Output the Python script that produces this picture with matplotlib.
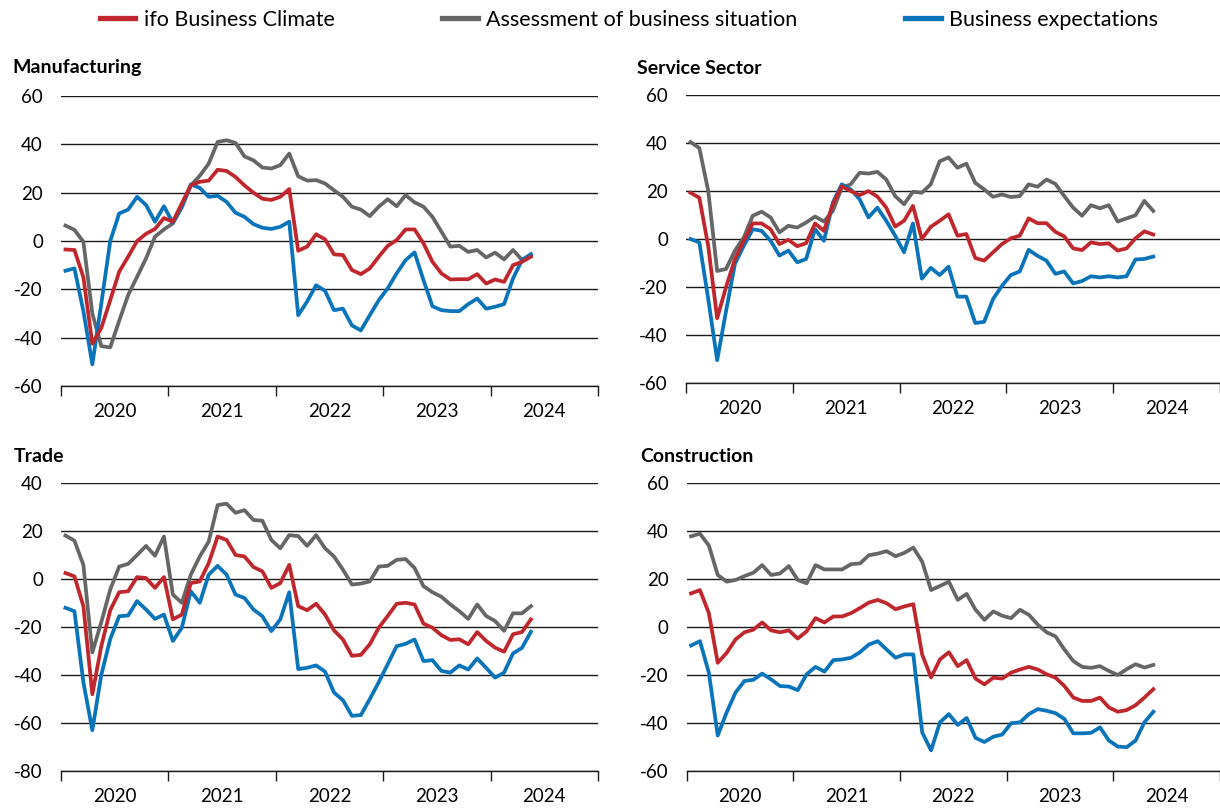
import matplotlib
matplotlib.use('Agg')
import matplotlib.pyplot as plt
from matplotlib.lines import Line2D
import numpy as np

plt.rcParams['font.family'] = ['Lato', 'DejaVu Sans']

years = ['2020', '2021', '2022', '2023', '2024']
series_names = ['ifo Business Climate', 'Assessment of business situation', 'Business expectations']

# Monthly balances, Jan 2020 - May 2024
manuf_climate = [-3.5, -3.7, -15, -42.5, -36, -24.5, -12.7, -6.5, 0, 3, 5, 9.5, 8, 15.6, 23, 24.5, 25, 29.5,
                 29, 26.5, 23, 20, 17.5, 17, 18.3, 21.5, -4, -2.3, 2.8, 0.7, -5.5, -5.8, -12, -13.7, -11.3, -6.5,
                 -2, 0.4, 4.8, 4.8, -1, -8.6, -13.4, -15.9, -15.8, -15.8, -13.7, -17.6, -15.9, -16.9, -10, -8.6, -6.5]
manuf_situation = [6.4, 4.6, -0.3, -30, -43.5, -44, -33, -22.4, -14.8, -7.2, 1.8, 4.8, 7.3, 14, 23, 27, 32, 41,
                   41.7, 40.6, 35, 33.4, 30.4, 30, 31.4, 36.2, 26.8, 25, 25.2, 23.8, 21, 18.3, 14.2, 13, 10.3, 14.2,
                   17.3, 14.4, 19, 16, 14.2, 10, 3.9, -2.3, -2, -4.5, -3.7, -6.8, -4.8, -7.6, -3.7, -7.8, -5.8]
manuf_expect = [-12.3, -11.3, -29, -51, -26, 0, 11.4, 13, 18.3, 14.9, 8, 14.4, 7.6, 14.2, 23.4, 22, 18.3, 18.7,
                16.2, 11.7, 10, 7, 5.5, 5, 5.9, 8, -30.7, -25, -18.3, -20.6, -28.6, -28, -34.9, -37, -30.7, -24.5,
                -19.6, -13.4, -7.9, -4.7, -16.2, -27, -28.6, -29, -29, -26.1, -23.8, -28, -27.2, -26.1, -15.5, -7.9, -5.4]

serv_climate = [19.3, 17.2, -3, -33, -20, -8.3, -0.7, 6.5, 6.5, 4.1, -2.1, -0.3, -3, -1.7, 6.5, 3.4, 14.5, 22,
                20, 18.3, 20, 17.7, 13.1, 5.2, 7.6, 13.8, 0, 5.1, 7.6, 10.3, 1.4, 2.1, -7.9, -9, -5.5, -2.1,
                0.3, 1.4, 8.6, 6.6, 6.6, 3, 1.1, -3.9, -4.6, -1.4, -2.1, -1.8, -4.8, -3.9, 0.3, 3.2, 1.9]
serv_situation = [40.4, 37.9, 20, -13.3, -12.5, -4.8, 0.7, 9.7, 11.4, 9, 2.8, 5.5, 4.8, 6.9, 9.4, 7.3, 11.7, 21.4,
                  22.8, 27.6, 27.3, 28, 24.8, 17.9, 14.5, 19.7, 19.3, 22.8, 32.4, 34, 29.7, 31.4, 23.4, 20.7, 17.6,
                  18.6, 17.5, 17.9, 22.8, 21.8, 24.8, 23, 17.9, 13.1, 9.7, 14.1, 12.8, 14.1, 7.3, 8.6, 9.9, 15.9, 11.7]
serv_expect = [0, -1.4, -25, -50.5, -30, -10.3, -2.8, 4.1, 3.4, -0.7, -6.9, -4.8, -9.7, -8.3, 4.1, -0.7, 15.2, 22.8,
               20.7, 16.6, 9, 13.1, 7.6, 1.4, -5.5, 6.5, -16.5, -12, -15, -11.5, -24, -24, -35, -34.5, -25, -19.5,
               -15, -13.5, -4.5, -7, -9, -14.5, -13.5, -18.5, -17.5, -15.5, -16, -15.5, -16, -15.5, -8.5, -8.3, -7.3]

trade_climate = [2.5, 1.1, -11.3, -48, -28, -13, -5.5, -5.1, 0.8, 0.4, -3.7, 0.8, -16.8, -14.8, -1.7, -1, 6.6, 17.7,
                 16.3, 10, 9.4, 5, 3.2, -3.7, -1.7, 5.9, -11.3, -13, -10.3, -14.8, -21.4, -25.2, -32, -31.6, -27.2,
                 -20.3, -15.4, -10.3, -9.9, -10.6, -18.6, -20.3, -23.4, -25.4, -25.1, -27.2, -22.1, -25.8, -28.6,
                 -30.3, -23, -22.1, -16.8]
trade_situation = [18.1, 16, 5.9, -30.6, -18, -4.4, 5.2, 6.3, 10, 13.8, 9.7, 17.7, -6.5, -9.9, 1.8, 9.4, 15.6, 30.8,
                   31.4, 27.6, 28.7, 24.6, 24.3, 16.3, 12.8, 18.3, 17.9, 13.8, 18.3, 12.8, 9.4, 3.9, -2.3, -1.9, -1,
                   5.2, 5.5, 8, 8.3, 4.6, -3, -5.5, -7.4, -10.6, -13.4, -16.6, -10.6, -15.4, -17.5, -21.6, -14.3,
                   -14.3, -11.3]
trade_expect = [-12, -13.4, -43, -63, -40, -25, -15.5, -15.2, -9.2, -12.7, -16.6, -14.8, -25.8, -20.3, -5.1, -9.9,
                1.8, 5.5, 1.8, -6.5, -7.9, -12.7, -15.5, -21.7, -16.8, -5.5, -37.5, -37, -36, -38.6, -47.3, -50.5,
                -57, -56.7, -50, -43, -35.5, -28, -27, -25.2, -34.2, -33.8, -38.3, -39, -36, -37.7, -33.1, -37,
                -41.1, -39, -31, -28.7, -22]

constr_climate = [14, 15.4, 5.8, -14.9, -10.8, -5.2, -2.2, -1.1, 1.9, -1.4, -2.2, -1.4, -4.8, -1.8, 3.7, 1.9, 4.4,
                  4.4, 5.8, 7.9, 10.2, 11.3, 9.9, 7.4, 8.6, 9.5, -11.5, -21, -13.5, -10.5, -16.3, -13.8, -21.5,
                  -23.9, -21.1, -21.5, -19, -17.7, -16.6, -17.7, -19.7, -21.1, -24.6, -29.4, -30.8, -30.8, -29.4,
                  -33.5, -35.3, -34.6, -32.6, -29.4, -25.9]
constr_situation = [37.8, 38.9, 34, 21.7, 18.9, 19.6, 21.2, 22.6, 25.8, 21.7, 22.3, 25.4, 19.6, 18.2, 25.8, 24, 24,
                    24, 26.2, 26.5, 29.9, 30.6, 31.6, 29.5, 30.9, 33.1, 27.2, 15.4, 17.1, 18.9, 11.3, 13.8, 7.2, 3,
                    6.5, 4.7, 3.7, 7.2, 5.1, 1, -2.2, -3.9, -9.4, -14.2, -16.6, -17, -16.3, -18.3, -20, -17.6,
                    -15.5, -16.9, -15.8]
constr_expect = [-7.7, -5.9, -19, -45.2, -35.6, -27.3, -22.5, -22, -19.4, -21.8, -24.6, -24.8, -26.3, -19.7, -16.6,
                 -18.6, -13.8, -13.5, -12.8, -10.5, -7.3, -5.9, -9.4, -12.8, -11.4, -11.4, -43.9, -51.4, -39.7,
                 -36.3, -40.8, -37.9, -46.2, -47.9, -45.7, -44.8, -40.1, -39.7, -36.3, -34.2, -34.9, -35.9, -38.3,
                 -44.3, -44.3, -44.1, -41.8, -47.3, -49.8, -50.1, -47.3, -39.7, -35.3]

RED = '#C0272D'
GRAY = '#666666'
BLUE = '#0A74BA'
LINE = '#1a1a1a'

fig = plt.figure(figsize=(12.2, 8.11), dpi=100)


def panel(rect, title, title_xy, clim, sit, exp, ylim, yticks):
    ax = fig.add_axes(rect)
    x = np.arange(len(clim)) + 0.5
    ax.plot(x, sit, color=GRAY, lw=2.7, solid_joinstyle='round', zorder=3)
    ax.plot(x, exp, color=BLUE, lw=2.7, solid_joinstyle='round', zorder=4)
    ax.plot(x, clim, color=RED, lw=2.7, solid_joinstyle='round', zorder=5)
    ax.set_xlim(0, 60)
    ax.set_ylim(*ylim)
    ax.set_yticks(yticks)
    ax.set_yticklabels([str(v) for v in yticks])
    ax.set_xticks(np.arange(0, 61, 12))
    ax.set_xticklabels([])
    ax.set_xticks(np.arange(6, 60, 12), minor=True)
    ax.set_xticklabels(years, minor=True)
    ax.tick_params(axis='x', which='major', length=7, width=1, color=LINE, direction='out')
    ax.tick_params(axis='x', which='minor', length=0, pad=12, labelsize=13.5)
    ax.tick_params(axis='y', length=0, pad=13, labelsize=13.5)
    for s in ['left', 'right', 'top']:
        ax.spines[s].set_visible(False)
    ax.spines['bottom'].set_color(LINE)
    ax.spines['bottom'].set_linewidth(1.0)
    ax.grid(axis='y', color=LINE, lw=1.0)
    ax.set_axisbelow(True)
    fig.text(title_xy[0] / 1220, 1 - title_xy[1] / 811, title, fontsize=14, fontweight='bold',
             ha='left', va='center')
    return ax


panel([0.0500, 0.5240, 0.4402, 0.3576], 'Manufacturing', (12, 68),
      manuf_climate, manuf_situation, manuf_expect, (-60, 60), list(range(-60, 61, 20)))
panel([0.5623, 0.5277, 0.4377, 0.3551], 'Service Sector', (637, 68),
      serv_climate, serv_situation, serv_expect, (-60, 60), list(range(-60, 61, 20)))
panel([0.0500, 0.0493, 0.4402, 0.3551], 'Trade', (14, 456),
      trade_climate, trade_situation, trade_expect, (-80, 40), list(range(-80, 41, 20)))
panel([0.5628, 0.0493, 0.4372, 0.3551], 'Construction', (640, 456),
      constr_climate, constr_situation, constr_expect, (-60, 60), list(range(-60, 61, 20)))

handles = [Line2D([], [], color=c, lw=3.8) for c in (RED, GRAY, BLUE)]
fig.legend(handles, series_names, loc='center', bbox_to_anchor=(0.5156, 1 - 20 / 811), ncol=3,
           frameon=False, fontsize=15.5, handlelength=1.65, handletextpad=0.4, columnspacing=5.0)

fig.savefig('out.png', dpi=100)
